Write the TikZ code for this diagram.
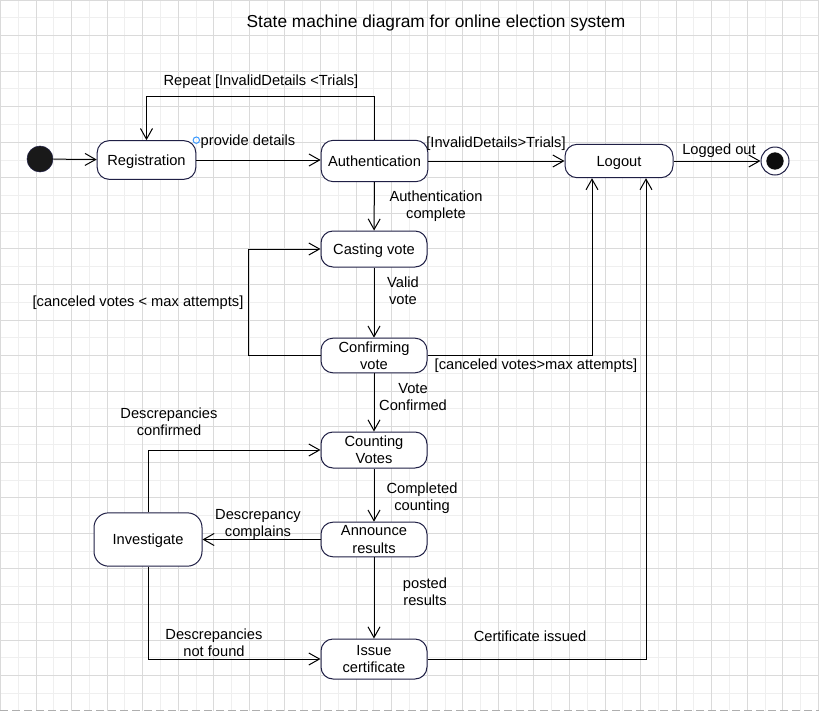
\documentclass[tikz,border=0pt]{standalone}
\usepackage{fontspec}
\setmainfont{Liberation Sans}
\usetikzlibrary{arrows.meta}
\definecolor{gridminor}{HTML}{EFEFEF}
\definecolor{gridmajor}{HTML}{DADADA}
\definecolor{stateline}{HTML}{1F1F45}
\definecolor{handle}{HTML}{3D9BFF}
\begin{document}
\begin{tikzpicture}[x=0.75pt, y=-0.75pt,
    state/.style={draw=stateline, line width=0.75pt, rounded corners=9pt, fill=white,
      align=center, font=\fontsize{11}{13}\selectfont, inner sep=1pt, text depth=0pt,
      minimum width=79.5pt},
    initial/.style={circle, fill=black!90, draw=stateline, minimum size=19.5pt, inner sep=0pt},
    final/.style={circle, draw=stateline, fill=white, line width=0.75pt, minimum size=21pt,
      inner sep=0pt, path picture={\fill[black!95] (path picture bounding box.center) circle[radius=6.5pt];}},
    trans/.style={line width=0.75pt, -{Straight Barb[length=8pt,width=9pt]}},
    lab/.style={align=center, font=\fontsize{11}{13}\selectfont, inner sep=1pt, text depth=0pt}]
  \useasboundingbox (0,0) rectangle (819,711);
  \fill[white] (0,0) rectangle (819,711);

  % Background grid
  \foreach \i in {0,...,46} {
    \draw[gridminor, line width=0.75pt] (0.5+17.78*\i,0) -- (0.5+17.78*\i,711);
  }
  \foreach \j in {0,...,39} {
    \draw[gridminor, line width=0.75pt] (0,17.78*\j) -- (819,17.78*\j);
  }
  \foreach \i in {0,...,23} {
    \draw[gridmajor, line width=0.75pt] (0.5+35.56*\i,0) -- (0.5+35.56*\i,711);
  }
  \foreach \j in {0,...,19} {
    \draw[gridmajor, line width=0.75pt] (0,35.56*\j) -- (819,35.56*\j);
  }
  \draw[gridmajor!80!black, line width=0.75pt, dash pattern=on 6pt off 3pt] (0,710) -- (819,710);

  % Title
  \node[font=\fontsize{13}{15}\selectfont, text depth=0pt] (title) at (436,21) {State machine diagram for online election system};

  % States
  \node[initial] (start) at (40,159) {};
  \node[state, minimum width=74pt, minimum height=29pt] (reg) at (146.5,160) {Registration};
  \node[state, minimum width=80pt, minimum height=31pt] (auth) at (374.5,161) {Authentication};
  \node[state, minimum width=81pt, minimum height=25pt] (logout) at (619,161) {Logout};
  \node[final] (end) at (775,161) {};
  \node[state, minimum height=27pt] (cast) at (374,249) {Casting vote};
  \node[state, minimum height=26pt] (conf) at (374,355.5) {Confirming\\vote};
  \node[state, minimum height=27pt] (count) at (374,450) {Counting\\Votes};
  \node[state, minimum height=26pt] (ann) at (374,539.5) {Announce\\results};
  \node[state, minimum height=30pt] (issue) at (374,659) {Issue\\certificate};
  \node[state, minimum width=81pt, minimum height=40pt, rounded corners=11pt] (inv) at (148,539.5) {Investigate};

  % Transitions
  \draw[trans] (start) -- (reg);
  \draw[trans] (reg.east) -- (reg.east -| auth.west);
  \draw[handle, line width=0.75pt] (reg.north east) circle[radius=2.4pt];
  \draw[trans] (auth.north) -- ++(0,-43) -| (reg.north);
  \draw[trans] (auth) -- (logout);
  \draw[trans] (logout) -- (end);
  \draw[trans] (auth) -- (cast);
  \draw[trans] (cast) -- (conf);
  \draw[trans] (conf.west) -- ++(-72,0) |- (cast.west);
  \draw[trans] (conf.east) -| ([xshift=-20.25pt]logout.south);
  \draw[trans] (conf) -- (count);
  \draw[trans] (count) -- (ann);
  \draw[trans] (ann) -- (inv);
  \draw[trans] (inv.north) |- (count.west);
  \draw[trans] (inv.south) |- (issue.west);
  \draw[trans] (ann) -- (issue);
  \draw[trans] (issue.east) -| ([xshift=20.25pt]logout.south);

  % Transition labels
  \node[lab] (repeatlab) at (261,80) {Repeat [InvalidDetails <Trials]};
  \node[lab] (detailslab) at (248,140) {provide details};
  \node[lab] (invalidlab) at (496,142) {[InvalidDetails>Trials]};
  \node[lab] (outlab) at (719,149) {Logged out};
  \node[lab] (authlab) at (436,205) {Authentication\\complete};
  \node[lab] (validlab) at (403,291) {Valid\\vote};
  \node[lab] (cancellab) at (138,301) {[canceled votes < max attempts]};
  \node[lab] (maxlab) at (536,364) {[canceled votes>max attempts]};
  \node[lab] (confirmedlab) at (413,397) {Vote\\Confirmed};
  \node[lab] (foundlab) at (169,422) {Descrepancies\\confirmed};
  \node[lab] (countedlab) at (422,497) {Completed\\counting};
  \node[lab] (complainlab) at (258,523) {Descrepancy\\complains};
  \node[lab] (postedlab) at (425,592) {posted\\results};
  \node[lab] (notfoundlab) at (214,643) {Descrepancies\\not found};
  \node[lab] (issuedlab) at (530,636) {Certificate issued};
\end{tikzpicture}
\end{document}
